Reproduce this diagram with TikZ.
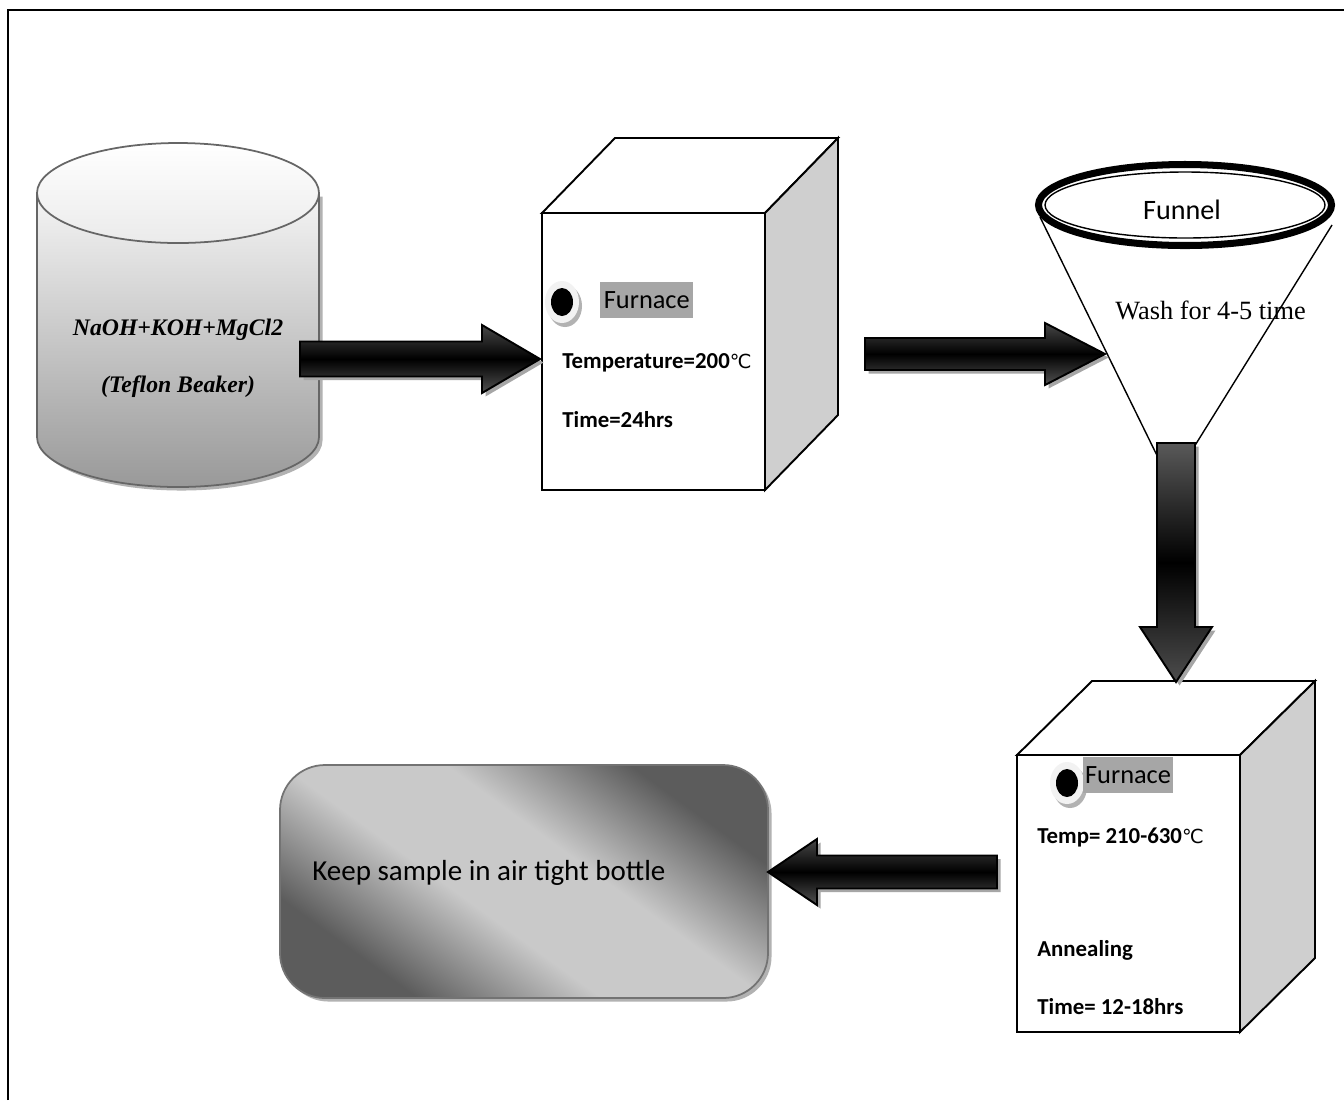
\documentclass[tikz,border=0pt]{standalone}
\usepackage{fontspec}
\setmainfont{Liberation Serif}
\newfontfamily\calfont{Carlito}
\newfontfamily\symfont{DejaVu Sans}
\usetikzlibrary{calc, positioning, shadows}
\pgfdeclareverticalshading{keepshade}{100bp}{color(0bp)=(black!64); color(27bp)=(black!64);
  color(43bp)=(black!21); color(57bp)=(black!21); color(73bp)=(black!64); color(100bp)=(black!64)}

\begin{document}
\begin{tikzpicture}[x=0.02cm, y=-0.02cm,
  cubeline/.style={draw=black, line width=1.1pt},
  fatarrow/.style={draw=black, line width=1.1pt, top color=black!72, bottom color=black!68, middle color=black,
    drop shadow={shadow xshift=2pt, shadow yshift=-2pt, fill=black!35, opacity=1}},
  spec/.style={font=\calfont\bfseries\fontsize{13}{15}\selectfont, anchor=west, inner sep=0pt},
  hilite/.style={fill=black!35, font=\calfont\fontsize{15}{18}\selectfont, anchor=west,
    inner xsep=2pt, inner ysep=0pt, minimum height=0.72cm},
  beaker/.style={font=\bfseries\itshape\fontsize{13.5}{16}\selectfont}
]
\useasboundingbox (0,0) rectangle (1344,1100);
\fill[white] (0,0) rectangle (1344,1100);

% frame
\draw[line width=1.2pt] (8,1100) -- (8,10) -- (1344,10);

% beaker
\coordinate (CylTop) at (178,193);
\draw[draw=black!60, line width=1pt, top color=black!4, bottom color=black!40,
  drop shadow={shadow xshift=2pt, shadow yshift=-2pt, fill=black!30, opacity=1}]
  (37,193) -- (37,437) arc[start angle=180, end angle=0, x radius=141, y radius=50] -- (319,193) -- cycle;
\draw[draw=black!60, line width=1pt, top color=white, bottom color=black!8] (CylTop) ellipse (141 and 50);
\node[beaker] (mix) at (178,330) {NaOH+KOH+MgCl2};
\node[beaker] (beak) at (178,387) {(Teflon Beaker)};

% furnace 1
\coordinate (K1) at (542,213);
\coordinate (K1b) at (765,490);
\draw[cubeline, fill=white] (K1) rectangle (K1b);
\draw[cubeline, fill=white] (K1) -- ++(73,-75) -- ++(223,0) -- (K1b |- K1) -- cycle;
\draw[cubeline, fill=black!19] (K1b |- K1) -- ++(73,-75) -- ++(0,277) -- (K1b) -- cycle;
\fill[black!30] (565,306) ellipse (17 and 21);
\fill[black!5] (562,302) ellipse (17 and 21);
\fill[black] (562,302) ellipse (11 and 14);
\node[hilite] (fur1) at (600,300) {Furnace};
\node[spec] (temp1) at (562,363) {Temperature=200{\mdseries\symfont\fontsize{11}{13}\selectfont ℃}};
\node[spec] (time1) at (562,420) {Time=24hrs};

% funnel
\coordinate (FunC) at (1185,205);
\coordinate (FunTip) at (1171,484);
\draw[line width=0.8pt] (1040,217) -- (FunTip) -- (1332,225);
\node[font=\fontsize{15}{18}\selectfont, anchor=west, inner sep=0pt] (wash) at (1115,310) {Wash for 4-5 time};
\draw[line width=4pt, fill=white] (FunC) ellipse (146.5 and 40.5);
\draw[line width=0.8pt] (FunC) ellipse (140 and 33);
\node[font=\calfont\fontsize{16}{19}\selectfont] (fun) at (1182,210) {Funnel};

% furnace 2
\coordinate (K2) at (1017,755);
\coordinate (K2b) at (1240,1032);
\draw[cubeline, fill=white] (K2) rectangle (K2b);
\draw[cubeline, fill=white] (K2) -- ++(75,-74) -- ++(223,0) -- (K2b |- K2) -- cycle;
\draw[cubeline, fill=black!19] (K2b |- K2) -- ++(75,-74) -- ++(0,277) -- (K2b) -- cycle;
\fill[black!30] (1070,787) ellipse (17 and 21);
\fill[black!5] (1067,783) ellipse (17 and 21);
\fill[black] (1067,783) ellipse (11 and 14);
\node[hilite, inner xsep=1pt] (fur2) at (1083,775) {Furnace};
\node[spec] (temp2) at (1037,837) {Temp= 210-630{\mdseries\symfont\fontsize{11}{13}\selectfont ℃}};
\node[spec] (ann) at (1037,950) {Annealing};
\node[spec] (time2) at (1037,1007) {Time= 12-18hrs};

% storage
\draw[draw=black!55, line width=1pt, rounded corners=0.9cm,
  shading=keepshade, shading angle=-36,
  drop shadow={shadow xshift=2pt, shadow yshift=-2pt, fill=black!30, opacity=1}]
  (280,765) rectangle (768,998);
\node[font=\calfont\fontsize{16.5}{20}\selectfont, anchor=west, inner sep=0pt] (keep) at (312,873) {Keep sample in air tight bottle};

% arrows
\coordinate (ar1a) at (300,359);
\coordinate (ar1b) at (540,359);
\draw[fatarrow] ($(ar1a)+(0,-17.5)$) -- ($(ar1b)+(-58,-17.5)$) -- ($(ar1b)+(-58,-34)$) -- (ar1b)
  -- ($(ar1b)+(-58,34)$) -- ($(ar1b)+(-58,17.5)$) -- ($(ar1a)+(0,17.5)$) -- cycle;

\coordinate (ar2a) at (865,354);
\coordinate (ar2b) at (1105,354);
\draw[fatarrow] ($(ar2a)+(0,-16)$) -- ($(ar2b)+(-60,-16)$) -- ($(ar2b)+(-60,-31)$) -- (ar2b)
  -- ($(ar2b)+(-60,31)$) -- ($(ar2b)+(-60,16)$) -- ($(ar2a)+(0,16)$) -- cycle;

\coordinate (ar3a) at (1176,443);
\coordinate (ar3b) at (1176,682);
\draw[fatarrow, top color=black!65, bottom color=black!70, middle color=black]
  ($(ar3a)+(-19,0)$) -- ($(ar3b)+(-19,-55)$) -- ($(ar3b)+(-36,-55)$) -- (ar3b)
  -- ($(ar3b)+(36,-55)$) -- ($(ar3b)+(19,-55)$) -- ($(ar3a)+(19,0)$) -- cycle;

\coordinate (ar4a) at (997,872);
\coordinate (ar4b) at (768,872);
\draw[fatarrow] ($(ar4a)+(0,-16.5)$) -- ($(ar4b)+(49,-16.5)$) -- ($(ar4b)+(49,-33)$) -- (ar4b)
  -- ($(ar4b)+(49,33)$) -- ($(ar4b)+(49,16.5)$) -- ($(ar4a)+(0,16.5)$) -- cycle;
\end{tikzpicture}
\end{document}
